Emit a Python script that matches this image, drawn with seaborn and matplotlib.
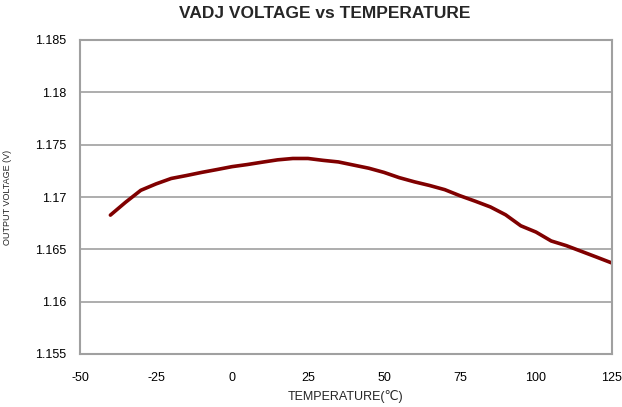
import matplotlib
matplotlib.use("Agg")
import matplotlib.pyplot as plt
import seaborn as sns
import pandas as pd

temperature_c = [-40, -35, -30, -25, -20, -15, -10, -5, 0, 5, 10, 15, 20, 25, 30, 35, 40,
                 45, 50, 55, 60, 65, 70, 75, 80, 85, 90, 95, 100, 105, 110, 115, 120, 125]
output_voltage = [1.16827, 1.16950, 1.17064, 1.17125, 1.17177, 1.17205, 1.17235, 1.17262,
                  1.17290, 1.17310, 1.17333, 1.17355, 1.17368, 1.17368, 1.17350, 1.17335,
                  1.17305, 1.17275, 1.17235, 1.17185, 1.17145, 1.17110, 1.17070, 1.17012,
                  1.16960, 1.16905, 1.16830, 1.16725, 1.16665, 1.16580, 1.16535, 1.16480,
                  1.16425, 1.16369]
x_ticks = [-50, -25, 0, 25, 50, 75, 100, 125]
y_ticks = [1.155, 1.16, 1.165, 1.17, 1.175, 1.18, 1.185]
y_tick_labels = ["1.155", "1.16", "1.165", "1.17", "1.175", "1.18", "1.185"]

sns.set_style("white")
plt.rcParams['font.family'] = ['Liberation Sans', 'DejaVu Sans']

df = pd.DataFrame({"T": temperature_c, "V": output_voltage})

fig = plt.figure(figsize=(6.22, 4.07), dpi=100)
ax = fig.add_axes([80/622, 53/407, 532/622, 314/407])

sns.lineplot(data=df, x="T", y="V", ax=ax, color="#800000", linewidth=2.6)

ax.set_xlim(-50, 125)
ax.set_ylim(1.155, 1.185)
ax.set_xticks(x_ticks)
ax.set_xticklabels([str(t) for t in x_ticks])
ax.set_yticks(y_ticks)
ax.set_yticklabels(y_tick_labels)

ax.grid(axis="y", color="#a0a0a0", linewidth=1.2)
ax.grid(axis="x", visible=False)
for s in ax.spines.values():
    s.set_color("#a0a0a0")
    s.set_linewidth(1.5)
    s.set_visible(True)

ax.tick_params(axis="both", which="major", direction="out", length=4, width=1.2,
               color="#a0a0a0", labelsize=9, labelcolor="black", pad=6)
ax.tick_params(axis="x", pad=9)

ax.set_xlabel("TEMPERATURE(℃)", fontsize=9, labelpad=4)
ax.set_ylabel("OUTPUT VOLTAGE (V)", fontsize=6.5)
ax.yaxis.set_label_coords(-0.128, 0.5)

fig.suptitle("VADJ VOLTAGE vs TEMPERATURE", x=(325/622), y=0.985, fontsize=12.5,
             fontweight="bold", va="top")

fig.savefig("out.png", dpi=100, facecolor="white")
